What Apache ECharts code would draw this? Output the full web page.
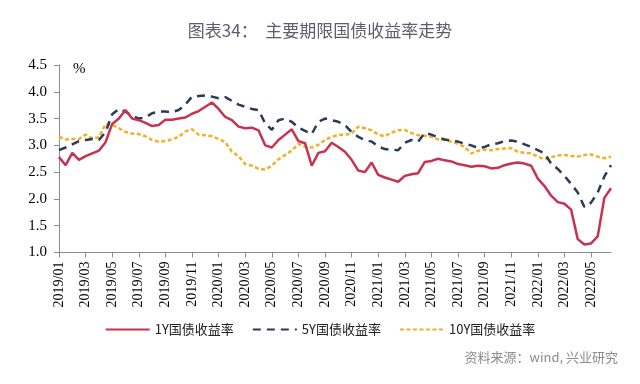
<!DOCTYPE html>
<html>
<head>
<meta charset="utf-8">
<script src="https://cdn.jsdelivr.net/npm/echarts@6/dist/echarts.min.js"></script>
<style>
html,body{margin:0;padding:0;background:#fff;}
#chart{width:640px;height:384px;}
</style>
</head>
<body>
<div id="chart"></div>
<script>
// Half-monthly observation dates from 2019/01 to 2022/06 (two points per month)
var startYear = 2019, startMonth = 1, monthCount = 42;
var categories = [];
for (var i = 0; i < monthCount; i++) {
  var y = startYear + Math.floor((startMonth - 1 + i) / 12);
  var m = ((startMonth - 1 + i) % 12) + 1;
  var mm = (m < 10 ? '0' : '') + m;
  categories.push(y + '/' + mm + '/01');
  categories.push(y + '/' + mm + '/16');
}

var tickLabels = ['2019/01','2019/03','2019/05','2019/07','2019/09','2019/11',
  '2020/01','2020/03','2020/05','2020/07','2020/09','2020/11',
  '2021/01','2021/03','2021/05','2021/07','2021/09','2021/11',
  '2022/01','2022/03','2022/05'];

var y1 = [2.78,2.63,2.86,2.73,2.80,2.85,2.90,3.06,3.40,3.50,3.66,3.50,
  3.47,3.42,3.36,3.38,3.48,3.48,3.50,3.52,3.59,3.64,3.72,3.80,
  3.68,3.53,3.47,3.35,3.32,3.33,3.28,3.00,2.96,3.10,3.20,3.30,
  3.08,3.04,2.62,2.86,2.89,3.05,2.97,2.88,2.73,2.53,2.50,2.68,
  2.45,2.40,2.36,2.32,2.43,2.46,2.48,2.69,2.71,2.75,2.72,2.70,
  2.65,2.63,2.60,2.62,2.61,2.57,2.58,2.63,2.66,2.68,2.66,2.62,
  2.38,2.24,2.06,1.94,1.91,1.80,1.25,1.15,1.17,1.30,2.02,2.20];

var y5 = [2.91,2.96,3.02,3.08,3.10,3.12,3.10,3.25,3.58,3.68,3.63,3.55,
  3.50,3.52,3.60,3.63,3.63,3.62,3.66,3.76,3.91,3.92,3.93,3.91,
  3.88,3.90,3.83,3.76,3.72,3.68,3.66,3.41,3.29,3.47,3.50,3.44,
  3.33,3.27,3.21,3.44,3.50,3.47,3.44,3.38,3.25,3.16,3.10,3.07,
  2.98,2.93,2.92,2.91,3.05,3.10,3.07,3.23,3.20,3.15,3.11,3.09,
  3.07,3.03,3.00,2.95,2.97,3.02,3.04,3.08,3.09,3.07,3.02,2.97,
  2.91,2.85,2.66,2.56,2.43,2.28,2.12,1.85,1.93,2.12,2.42,2.63];

var y10 = [3.16,3.11,3.12,3.12,3.20,3.13,3.15,3.40,3.38,3.32,3.25,3.22,
  3.21,3.17,3.10,3.07,3.08,3.11,3.16,3.26,3.30,3.20,3.19,3.17,
  3.12,3.06,2.88,2.80,2.65,2.62,2.56,2.55,2.62,2.74,2.82,2.90,
  3.03,2.97,2.96,3.01,3.10,3.16,3.19,3.20,3.22,3.35,3.32,3.28,
  3.20,3.17,3.24,3.28,3.29,3.23,3.19,3.18,3.16,3.11,3.10,3.07,
  3.03,2.97,2.85,2.90,2.92,2.91,2.93,2.94,2.95,2.88,2.86,2.85,
  2.79,2.74,2.78,2.81,2.82,2.80,2.79,2.82,2.83,2.79,2.76,2.79];

var seriesNames = ['1Y国债收益率','5Y国债收益率','10Y国债收益率'];
var yTicks = [1.0,1.5,2.0,2.5,3.0,3.5,4.0,4.5];

var serif = '"Liberation Serif","Times New Roman",serif';
var cjk = '"Noto Sans CJK SC","Noto Sans",sans-serif';

var showIdx = function (idx) {
  return idx % 4 === 0 && tickLabels.indexOf(categories[idx].slice(0, 7)) >= 0;
};

var chart = echarts.init(document.getElementById('chart'), null, {renderer:'canvas'});
chart.setOption({
  animation: false,
  backgroundColor: '#ffffff',
  title: {
    text: '图表34：  主要期限国债收益率走势',
    left: 'center',
    top: 17,
    textStyle: {fontFamily: cjk, fontSize: 17, fontWeight: 'normal', color: '#5a616c'}
  },
  graphic: [
    {type:'text', left: 73, top: 62, style:{text:'%', font:'15px ' + serif, fill:'#000'}},
    {type:'text', right: 22, top: 351, style:{text:'资料来源：wind, 兴业研究', font:'13px ' + cjk, fill:'#8c8c8c'}}
  ],
  legend: {
    data: seriesNames,
    top: 318,
    left: 'center',
    itemWidth: 44,
    itemHeight: 14,
    itemGap: 18,
    itemStyle: {opacity: 0},
    textStyle: {fontFamily: cjk, fontSize: 13, color: '#222'}
  },
  grid: {left: 59, right: 29, top: 65, bottom: 131.5},
  xAxis: {
    type: 'category',
    data: categories,
    boundaryGap: false,
    axisLine: {lineStyle: {color: '#8c8c8c', width: 1}},
    axisTick: {show: true, length: 5, lineStyle: {color: '#8c8c8c'}, interval: showIdx},
    axisLabel: {
      rotate: 90, margin: 9,
      fontFamily: serif, fontSize: 14, color: '#000',
      interval: showIdx,
      formatter: function (v) { return v.slice(0, 7); }
    },
    splitLine: {show: false}
  },
  yAxis: {
    type: 'value',
    min: yTicks[0], max: yTicks[yTicks.length - 1], interval: 0.5,
    axisLine: {show: true, lineStyle: {color: '#8c8c8c', width: 1}},
    axisTick: {show: true, length: 5, lineStyle: {color: '#8c8c8c'}},
    axisLabel: {margin: 12, fontFamily: serif, fontSize: 15, color: '#000',
      formatter: function (v) { return v.toFixed(1); }},
    splitLine: {show: false}
  },
  series: [
    {name: seriesNames[0], type: 'line', data: y1, showSymbol: false, symbol: 'none',
      lineStyle: {color: '#c8324e', width: 2.5}, itemStyle: {color: '#c8324e'}, z: 3},
    {name: seriesNames[1], type: 'line', data: y5, showSymbol: false, symbol: 'none',
      lineStyle: {color: '#2b3a56', width: 2.5, type: [8, 6]}, itemStyle: {color: '#2b3a56'}, z: 2},
    {name: seriesNames[2], type: 'line', data: y10, showSymbol: false, symbol: 'none',
      lineStyle: {color: '#f0b128', width: 2.5, type: [4, 2.5]}, itemStyle: {color: '#f0b128'}, z: 1}
  ]
});
</script>
</body>
</html>
